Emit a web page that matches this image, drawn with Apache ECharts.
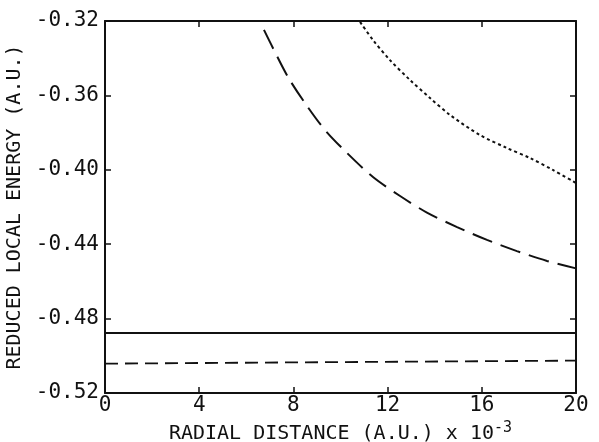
<!DOCTYPE html>
<html><head><meta charset="utf-8">
<script src="https://cdn.jsdelivr.net/npm/echarts@6/dist/echarts.min.js"></script>
<style>html,body{margin:0;padding:0;background:#fff}#c{width:599px;height:442px}</style>
</head><body><div id="c"></div>
<script>
// Data
const xTicks = [0, 4, 8, 12, 16, 20];
const yTicks = [-0.52, -0.48, -0.44, -0.40, -0.36, -0.32];
const xTitle = "RADIAL DISTANCE (A.U.) x 10";
const xTitleExp = "-3";
const yTitle = "REDUCED LOCAL ENERGY (A.U.)";

const solidX = [0, 10, 20];
const solidY = [-0.4877, -0.4877, -0.4877];

const shortDashX = [0, 10, 20];
const shortDashY = [-0.5042, -0.5034, -0.5026];

const longDashX = [6.75, 7.13, 7.77, 8.49, 9.34, 10.28, 11.38, 12.53, 13.67, 14.95, 16.22, 17.49, 18.77, 20.0];
const longDashY = [-0.3248, -0.3345, -0.3501, -0.3641, -0.3786, -0.3910, -0.4039, -0.4141, -0.4230, -0.4308, -0.4377, -0.4437, -0.4490, -0.4530];

const dottedX = [10.83, 11.38, 12.10, 12.95, 13.80, 14.65, 15.92, 17.07, 18.05, 19.02, 20.0];
const dottedY = [-0.3205, -0.3302, -0.3410, -0.3517, -0.3614, -0.3705, -0.3813, -0.3883, -0.3937, -0.4001, -0.4071];

const pairs = (xs, ys) => xs.map((x, i) => [x, ys[i]]);
const INK = '#111';
const FONT = 'DejaVu Sans Mono';

const chart = echarts.init(document.getElementById('c'), null, {renderer: 'canvas'});
const axisLineStyle = {color: INK, width: 2};
chart.setOption({
  animation: false,
  backgroundColor: '#fff',
  grid: {left: 105, right: 23, top: 21, bottom: 49, containLabel: false, outerBoundsMode: 'none'},
  xAxis: [{
    type: 'value', min: 0, max: 20, interval: 4, position: 'bottom',
    axisLine: {show: true, onZero: false, lineStyle: axisLineStyle},
    axisTick: {show: true, inside: true, length: 6, lineStyle: {color: INK, width: 1.5}},
    axisLabel: {color: INK, fontFamily: FONT, fontSize: 21, margin: 2,
      formatter: v => xTicks.includes(v) ? String(v) : ''},
    splitLine: {show: false},
    name: xTitle + '{sup|' + xTitleExp + '}',
    nameLocation: 'middle', nameGap: 28,
    nameTextStyle: {color: INK, fontFamily: FONT, fontSize: 20,
      rich: {sup: {fontFamily: FONT, fontSize: 15, color: INK, verticalAlign: 'top', padding: [0,0,10,0]}}}
  }, {
    type: 'value', min: 0, max: 20, interval: 4, position: 'top',
    axisLine: {show: true, onZero: false, lineStyle: axisLineStyle},
    axisTick: {show: true, inside: true, length: 6, lineStyle: {color: INK, width: 1.5}},
    axisLabel: {show: false}, splitLine: {show: false}
  }],
  yAxis: [{
    type: 'value', min: -0.52, max: -0.32, interval: 0.04, position: 'left',
    axisLine: {show: true, onZero: false, lineStyle: axisLineStyle},
    axisTick: {show: true, inside: true, length: 6, lineStyle: {color: INK, width: 1.5}},
    axisLabel: {color: INK, fontFamily: FONT, fontSize: 21, margin: 6,
      formatter: v => v.toFixed(2)},
    splitLine: {show: false},
    name: yTitle, nameLocation: 'middle', nameGap: 78, nameRotate: 90,
    nameTextStyle: {color: INK, fontFamily: FONT, fontSize: 20}
  }, {
    type: 'value', min: -0.52, max: -0.32, interval: 0.04, position: 'right',
    axisLine: {show: true, onZero: false, lineStyle: axisLineStyle},
    axisTick: {show: true, inside: true, length: 6, lineStyle: {color: INK, width: 1.5}},
    axisLabel: {show: false}, splitLine: {show: false}
  }],
  series: [
    {type: 'line', data: pairs(solidX, solidY), showSymbol: false, symbol: 'none',
     lineStyle: {color: INK, width: 2}},
    {type: 'line', data: pairs(shortDashX, shortDashY), showSymbol: false, symbol: 'none',
     lineStyle: {color: INK, width: 1.8, type: [13, 7]}},
    {type: 'line', data: pairs(longDashX, longDashY), smooth: 0.3, showSymbol: false, symbol: 'none',
     lineStyle: {color: INK, width: 2, type: [21, 9]}},
    {type: 'line', data: pairs(dottedX, dottedY), smooth: 0.3, showSymbol: false, symbol: 'none',
     lineStyle: {color: INK, width: 2, type: [3, 3]}}
  ]
});
</script>
</body></html>
